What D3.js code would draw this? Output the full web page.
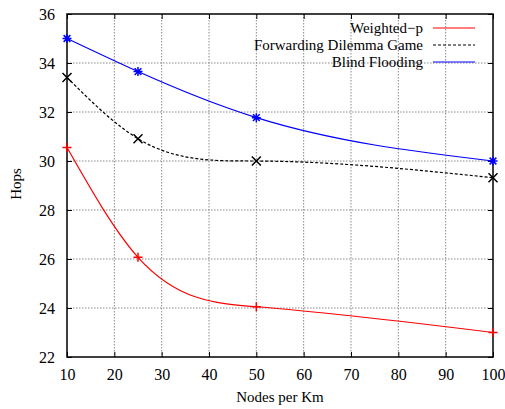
<!DOCTYPE html>
<html>
<head>
<meta charset="utf-8">
<script src="https://cdn.jsdelivr.net/npm/d3@7"></script>
<style>
  body { margin: 0; background: #fff; }
  svg text { font-family: 'Liberation Serif', 'Times New Roman', serif; fill: #000; }
</style>
</head>
<body>
<script>
// data
var nodes = [10, 25, 50, 100];
var weightedP = [30.55, 26.07, 24.05, 23.0];
var forwardingGame = [33.41, 30.91, 30.0, 29.32];
var blindFlooding = [35.0, 33.65, 31.77, 30.0];
var xTicks = [10, 20, 30, 40, 50, 60, 70, 80, 90, 100];
var yTicks = [22, 24, 26, 28, 30, 32, 34, 36];

var series = [
  {name: "Weighted\u2212p", values: weightedP, color: "#ff0000", dash: null, mark: "plus"},
  {name: "Forwarding Dilemma Game", values: forwardingGame, color: "#000000", dash: "3,2", mark: "cross"},
  {name: "Blind Flooding", values: blindFlooding, color: "#0000ff", dash: null, mark: "star"}
];

var serif = "'Liberation Serif', 'Times New Roman', serif";
var fontSize = 15;

var w = 505, h = 409;
var margin = {top: 14, right: 12, bottom: 52, left: 67};
var graphWidth = 493 - margin.left;
var graphHeight = 357 - margin.top;

var svg = d3.select("body").append("svg")
  .attr("width", w)
  .attr("height", h);

var graph = svg.append("g")
  .attr("transform", `translate(${margin.left}, ${margin.top})`);

var xScale = d3.scaleLinear().domain([10, 100]).range([0, graphWidth]);
var yScale = d3.scaleLinear().domain([22, 36]).range([graphHeight, 0]);

// natural cubic spline in y(x), like gnuplot's "smooth csplines"
function NaturalX(context) { this._context = context; }
NaturalX.prototype = {
  areaStart: function() {}, areaEnd: function() {},
  lineStart: function() { this._x = []; this._y = []; },
  point: function(x, y) { this._x.push(+x); this._y.push(+y); },
  lineEnd: function() {
    var x = this._x, y = this._y, n = x.length, c = this._context;
    if (!n) return;
    c.moveTo(x[0], y[0]);
    if (n < 3) { for (var k = 1; k < n; k++) c.lineTo(x[k], y[k]); return; }
    var hh = [], s = [];
    for (var i = 0; i < n - 1; i++) { hh.push(x[i + 1] - x[i]); s.push((y[i + 1] - y[i]) / hh[i]); }
    // tridiagonal solve for second derivatives (M0 = Mn = 0)
    var m = n - 2, a = [], b = [], cc = [], r = [];
    for (var j = 0; j < m; j++) {
      a.push(hh[j]); b.push(2 * (hh[j] + hh[j + 1])); cc.push(hh[j + 1]);
      r.push(6 * (s[j + 1] - s[j]));
    }
    for (var j = 1; j < m; j++) {
      var f = a[j] / b[j - 1];
      b[j] -= f * cc[j - 1]; r[j] -= f * r[j - 1];
    }
    var M = new Array(n).fill(0);
    for (var j = m - 1; j >= 0; j--) {
      M[j + 1] = (r[j] - (j < m - 1 ? cc[j] * M[j + 2] : 0)) / b[j];
    }
    for (var i = 0; i < n - 1; i++) {
      var h0 = hh[i];
      var d0 = s[i] - h0 * (2 * M[i] + M[i + 1]) / 6;
      var d1 = s[i] + h0 * (M[i] + 2 * M[i + 1]) / 6;
      c.bezierCurveTo(x[i] + h0 / 3, y[i] + d0 * h0 / 3,
                      x[i + 1] - h0 / 3, y[i + 1] - d1 * h0 / 3,
                      x[i + 1], y[i + 1]);
    }
  }
};
function curveNaturalX(context) { return new NaturalX(context); }

// grid
graph.selectAll(".vgrid").data(xTicks.slice(1, -1)).enter().append("line")
  .attr("x1", d => xScale(d)).attr("x2", d => xScale(d))
  .attr("y1", 0).attr("y2", graphHeight)
  .attr("stroke", "#888").attr("stroke-width", 1).attr("stroke-dasharray", "1.5,1.5");
graph.selectAll(".hgrid").data(yTicks.slice(1, -1)).enter().append("line")
  .attr("x1", 0).attr("x2", graphWidth)
  .attr("y1", d => yScale(d)).attr("y2", d => yScale(d))
  .attr("stroke", "#888").attr("stroke-width", 1).attr("stroke-dasharray", "1.5,1.5");

// axes (ticks mirrored like gnuplot)
var xAxis = graph.append("g").attr("transform", `translate(0, ${graphHeight})`)
  .call(d3.axisBottom(xScale).tickValues(xTicks).tickSize(-5).tickPadding(12));
var xTop = graph.append("g")
  .call(d3.axisTop(xScale).tickValues(xTicks).tickSize(-5).tickFormat(""));
var yAxis = graph.append("g")
  .call(d3.axisLeft(yScale).tickValues(yTicks).tickSize(-5).tickPadding(12));
var yRight = graph.append("g").attr("transform", `translate(${graphWidth}, 0)`)
  .call(d3.axisRight(yScale).tickValues(yTicks).tickSize(-5).tickFormat(""));

[xAxis, xTop, yAxis, yRight].forEach(function(a) {
  a.attr("font-family", serif).attr("font-size", fontSize + 1);
  a.select(".domain").remove();
  a.selectAll("line").attr("stroke", "#000");
  a.selectAll("text").attr("fill", "#000");
});

graph.append("rect")
  .attr("width", graphWidth).attr("height", graphHeight)
  .attr("fill", "none").attr("stroke", "#000").attr("stroke-width", 1.5);

// curves
var line = d3.line()
  .x((d, i) => xScale(nodes[i]))
  .y(d => yScale(d))
  .curve(curveNaturalX);

function markPath(type, s) {
  if (type == "plus") return `M${-s},0H${s}M0,${-s}V${s}`;
  if (type == "cross") return `M${-s},${-s}L${s},${s}M${-s},${s}L${s},${-s}`;
  return `M${-s},0H${s}M0,${-s}V${s}M${-s*0.75},${-s*0.75}L${s*0.75},${s*0.75}M${-s*0.75},${s*0.75}L${s*0.75},${-s*0.75}`;
}

series.forEach(function(s) {
  graph.append("path")
    .attr("d", line(s.values))
    .attr("fill", "none")
    .attr("stroke", s.color)
    .attr("stroke-width", 1.2)
    .attr("stroke-dasharray", s.dash);

  graph.selectAll(null).data(s.values).enter().append("path")
    .attr("transform", (d, i) => `translate(${xScale(nodes[i])}, ${yScale(d)})`)
    .attr("d", markPath(s.mark, 4.5))
    .attr("stroke", s.color)
    .attr("stroke-width", 1.5)
    .attr("fill", "none");
});

// legend
var legend = graph.selectAll(".legend").data(series).enter().append("g")
  .attr("transform", (d, i) => `translate(0, ${14 + i * 17})`);
legend.append("text")
  .attr("x", 356).attr("y", 0).attr("dy", "0.35em")
  .attr("text-anchor", "end").attr("font-size", fontSize)
  .attr("font-family", serif)
  .text(d => d.name);
legend.append("line")
  .attr("x1", 366).attr("x2", 408)
  .attr("stroke", d => d.color).attr("stroke-width", 1.2)
  .attr("stroke-dasharray", d => d.dash);

// axis titles
svg.append("text")
  .attr("x", (margin.left + 493) / 2).attr("y", 402)
  .attr("text-anchor", "middle").attr("font-size", fontSize)
  .attr("font-family", serif)
  .text("Nodes per Km");
svg.append("text")
  .attr("transform", "translate(21, 184) rotate(-90)")
  .attr("text-anchor", "middle").attr("font-size", fontSize)
  .attr("font-family", serif)
  .text("Hops");
</script>
</body>
</html>
